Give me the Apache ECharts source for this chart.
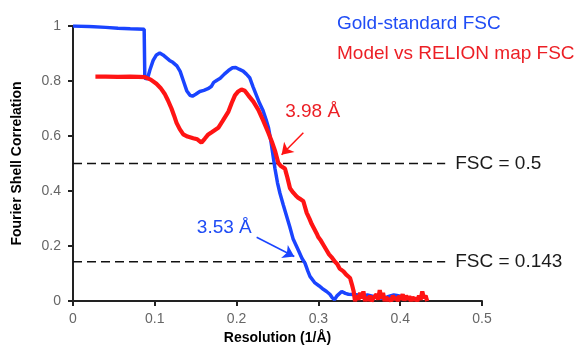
<!DOCTYPE html>
<html><head><meta charset="utf-8">
<script src="https://cdn.jsdelivr.net/npm/echarts@6/dist/echarts.min.js"></script>
<style>html,body{margin:0;padding:0;background:#fff}#c{width:584px;height:350px}</style>
</head><body><div id="c"></div>
<script>
// Gold-standard FSC (blue)
const goldX = [0,0.02,0.04,0.055,0.07,0.087,0.0878,0.091,0.094,0.098,0.102,0.106,0.110,0.114,0.118,0.122,0.127,0.131,0.135,0.139,0.143,0.146,0.150,0.155,0.160,0.165,0.169,0.172,0.176,0.180,0.185,0.190,0.195,0.199,0.203,0.208,0.212,0.216,0.220,0.224,0.228,0.232,0.236,0.239,0.242,0.245,0.247,0.250,0.253,0.257,0.261,0.265,0.269,0.2755,0.280,0.2836,0.287,0.2897,0.2958,0.301,0.306,0.310,0.314,0.317,0.3196,0.323,0.3285,0.333,0.3367,0.343,0.349,0.355,0.360,0.366,0.372,0.378,0.384,0.389,0.392,0.396,0.400,0.405,0.410];
const goldY = [1.0,0.998,0.995,0.992,0.99,0.988,0.81,0.808,0.84,0.875,0.895,0.902,0.895,0.885,0.875,0.868,0.855,0.835,0.80,0.765,0.748,0.745,0.752,0.762,0.766,0.772,0.78,0.795,0.803,0.81,0.825,0.838,0.848,0.849,0.843,0.836,0.825,0.812,0.78,0.75,0.72,0.695,0.66,0.63,0.58,0.52,0.48,0.43,0.392,0.35,0.31,0.27,0.227,0.185,0.155,0.138,0.11,0.09,0.066,0.055,0.043,0.035,0.025,0.012,0.005,0.02,0.035,0.028,0.025,0.024,0.022,0.02,0.022,0.018,0.012,0.01,0.015,0.02,0.022,0.02,0.018,0.012,0.01];
// Model vs RELION map FSC (red)
const modelX = [0.0274,0.04,0.055,0.07,0.08,0.0878,0.095,0.102,0.107,0.112,0.116,0.1204,0.1235,0.1266,0.1305,0.1348,0.140,0.147,0.152,0.157,0.161,0.1654,0.170,0.1776,0.183,0.190,0.194,0.198,0.202,0.206,0.210,0.2143,0.2205,0.2266,0.2327,0.2388,0.2430,0.2469,0.251,0.2545,0.2591,0.262,0.2653,0.269,0.272,0.2755,0.2785,0.2816,0.2857,0.289,0.2918,0.295,0.298,0.300,0.303,0.306,0.310,0.313,0.316,0.3203,0.323,0.326,0.3306,0.334,0.3387,0.341,0.343,0.3448,0.347,0.349,0.351,0.353,0.355,0.357,0.359,0.361,0.363,0.365,0.367,0.369,0.371,0.373,0.375,0.377,0.379,0.381,0.383,0.385,0.387,0.389,0.391,0.393,0.395,0.397,0.399,0.401,0.403,0.405,0.407,0.409,0.411,0.413,0.415,0.417,0.419,0.421,0.423,0.425,0.427,0.429,0.431,0.433];
const modelY = [0.816,0.816,0.815,0.816,0.815,0.814,0.805,0.79,0.775,0.754,0.73,0.70,0.675,0.648,0.625,0.606,0.598,0.592,0.588,0.576,0.59,0.606,0.615,0.63,0.655,0.689,0.72,0.748,0.762,0.769,0.765,0.748,0.725,0.695,0.655,0.612,0.58,0.547,0.502,0.49,0.4816,0.45,0.41,0.395,0.385,0.375,0.37,0.363,0.321,0.30,0.28,0.262,0.245,0.232,0.22,0.205,0.185,0.17,0.16,0.143,0.135,0.118,0.108,0.096,0.084,0.06,0.037,0.0,0.02,0.005,0.03,0.01,0.035,0.0,0.015,0.002,0.02,0.0,0.01,0.003,0.025,0.005,0.04,0.01,0.03,0.0,0.015,0.002,0.01,0.0,0.02,0.005,0.015,0.0,0.02,0.005,0.025,0.002,0.02,0.005,0.018,0.0,0.015,0.003,0.012,0.0,0.02,0.005,0.035,0.01,0.02,0.0];
// Thresholds
const thresholdValues = [0.5, 0.143];
const thresholdLabels = ['FSC = 0.5', 'FSC = 0.143'];
const thresholdXRange = [0, 0.455];
// Annotations
const annTexts = ['3.98 Å', '3.53 Å'];
const annTextPos = [[0.293, 0.69], [0.185, 0.266]];
const annArrows = [[[0.2816, 0.612], [0.2550, 0.532]], [[0.2245, 0.232], [0.2705, 0.162]]];
const xTicks = [0, 0.1, 0.2, 0.3, 0.4, 0.5];
const yTicks = [0, 0.2, 0.4, 0.6, 0.8, 1];

const BLUE = '#1a44ff', RED = '#ff1414', BLUE_T = '#1f4cf5', RED_T = '#ec1f25';
const FONT = 'Liberation Sans, Arial, sans-serif';
const zip = (a, b) => a.map((v, i) => [v, b[i]]);

const chart = echarts.init(document.getElementById('c'), null, {renderer: 'canvas'});
const series = [];
thresholdValues.forEach((t, i) => {
  series.push({
    name: 'thr' + i, type: 'line', data: thresholdXRange.map(x => [x, t]),
    symbol: 'none', silent: true, z: 1,
    lineStyle: {color: '#111', width: 1.5, type: [9, 5]},
    endLabel: {show: true, formatter: thresholdLabels[i], distance: 10,
      fontSize: 19, fontFamily: FONT, color: '#1a1a1a'}
  });
});
series.push({
  name: 'Gold-standard FSC', type: 'line', data: zip(goldX, goldY),
  symbol: 'none', z: 3, lineStyle: {color: BLUE, width: 3.5}, itemStyle: {color: BLUE},
  markLine: {silent: true, symbol: ['none', 'arrow'], symbolSize: 11, label: {show: false},
    lineStyle: {color: BLUE, width: 1.5, type: 'solid'},
    data: [[{coord: annArrows[1][0]}, {coord: annArrows[1][1]}]]}
});
series.push({
  name: 'Model vs RELION map FSC', type: 'line', data: zip(modelX, modelY),
  symbol: 'none', z: 4, lineStyle: {color: RED, width: 4.2}, itemStyle: {color: RED},
  markLine: {silent: true, symbol: ['none', 'arrow'], symbolSize: 11, label: {show: false},
    lineStyle: {color: RED, width: 1.5, type: 'solid'},
    data: [[{coord: annArrows[0][0]}, {coord: annArrows[0][1]}]]}
});
series.push({
  name: 'ann', type: 'scatter', symbolSize: 0, silent: true, z: 5,
  itemStyle: {opacity: 1},
  data: annTexts.map((t, i) => ({value: annTextPos[i],
    itemStyle: {opacity: 1},
    label: {show: true, position: 'inside', formatter: t, fontSize: 19, fontFamily: FONT,
      opacity: 1, color: i === 0 ? RED_T : BLUE_T}}))
});

chart.setOption({
  animation: false,
  grid: {left: 73, right: 102, top: 26, bottom: 43, containLabel: false},
  legend: {
    data: [{name: 'Gold-standard FSC', textStyle: {color: BLUE_T}},
           {name: 'Model vs RELION map FSC', textStyle: {color: RED_T}}],
    orient: 'vertical', left: 327, top: 9, itemWidth: 0, itemHeight: 0, itemGap: 11,
    icon: 'rect', selectedMode: false,
    textStyle: {fontSize: 19, fontFamily: FONT}
  },
  xAxis: {
    type: 'value', min: 0, max: 0.5, interval: 0.1,
    name: 'Resolution (1/Å)', nameLocation: 'middle', nameGap: 29,
    nameTextStyle: {fontSize: 14, fontWeight: 'bold', color: '#000', fontFamily: FONT},
    axisLine: {show: true, onZero: false, lineStyle: {color: '#222', width: 2}},
    axisTick: {show: true, length: 5, inside: false, lineStyle: {color: '#222', width: 2}},
    axisLabel: {fontSize: 14, color: '#666', margin: 11, fontFamily: FONT,
      formatter: v => { const m = xTicks.find(t => Math.abs(t - v) < 1e-9); return m === undefined ? '' : String(m); }},
    splitLine: {show: false}
  },
  yAxis: {
    type: 'value', min: 0, max: 1, interval: 0.2,
    name: 'Fourier Shell Correlation', nameLocation: 'middle', nameGap: 49, nameRotate: 90,
    nameTextStyle: {fontSize: 14, fontWeight: 'bold', color: '#000', fontFamily: FONT},
    axisLine: {show: true, lineStyle: {color: '#222', width: 2}},
    axisTick: {show: true, length: 5, inside: false, lineStyle: {color: '#222', width: 2}},
    axisLabel: {fontSize: 14, color: '#666', margin: 12, fontFamily: FONT,
      formatter: v => { const m = yTicks.find(t => Math.abs(t - v) < 1e-9); return m === undefined ? '' : String(m); }},
    splitLine: {show: false}
  },
  series: series
});
</script></body></html>
